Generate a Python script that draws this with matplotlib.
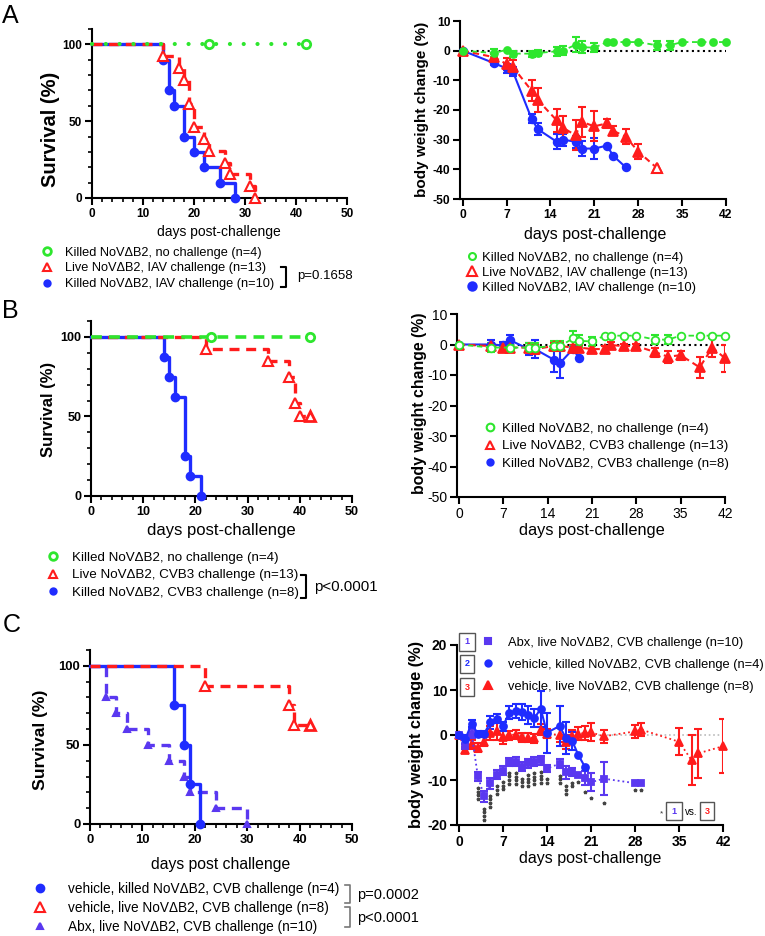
import numpy as np
import matplotlib.pyplot as plt
from matplotlib.lines import Line2D

plt.rcParams['font.family'] = ['Liberation Sans', 'DejaVu Sans']

W, H = 765, 936
GREEN = '#2ee62e'
RED = '#ff1c1c'
BLUE = '#1f2cff'
PURPLE = '#5a38f0'

# ---- A: survival (IAV)
a_red_t = [0, 14, 17, 18, 19, 20, 22, 23, 26, 27, 31, 32]
a_red_s = [100, 92.3, 84.6, 76.9, 61.5, 46.2, 38.5, 30.8, 23.1, 15.4, 7.7, 0]
a_blue_t = [0, 14, 15, 16, 18, 20, 22, 25, 28]
a_blue_s = [100, 90, 70, 60, 40, 30, 20, 10, 0]
a_green_t = [0, 42]
a_green_s = [100, 100]
a_green_cens = [23, 42]

# ---- A: body weight
ag_days = [0, 5, 7, 8, 11, 12, 15, 16, 18, 19, 21, 23, 24, 26, 28, 31, 33, 35, 38, 40, 42]
ag_mean = [0, -0.8, 0.3, -1, -1, -0.8, -0.2, 0, 2, 1.2, 1, 2.9, 2.9, 2.9, 2.9, 1.8, 1.8, 2.9, 2.9, 2.9, 2.9]
ag_err = [0, 1.5, 0, 1, 1, 1, 1.5, 1.5, 2.5, 2, 1.5, 0, 0, 0, 0, 1.5, 1.5, 0, 0, 0, 0]
ar_days = [0, 5, 7, 8, 11, 12, 15, 16, 18, 19, 21, 23, 24, 26, 28, 31]
ar_mean = [0, -2.2, -4.5, -5.5, -13.5, -16.7, -23.5, -26, -28.5, -24, -25.5, -24.5, -27, -29, -34, -39.6]
ar_err = [0, 1, 2, 2.5, 3.5, 4, 4, 4, 5, 5, 5, 1.5, 1.5, 2.5, 2.5, 0]
ab_days = [0, 5, 7, 8, 11, 12, 15, 16, 18, 19, 21, 23, 24, 26]
ab_mean = [0, -4.2, -6, -7, -23, -26.5, -30.7, -30, -30.7, -33, -33, -32, -35.4, -39.3]
ab_err = [0, 0.8, 1.5, 1.5, 1.5, 2, 2.5, 2, 2, 2.5, 3.5, 0, 0, 0]

# ---- B: survival (CVB3)
b_red_t = [0, 22, 34, 38, 39, 40]
b_red_s = [100, 92.3, 84.6, 75, 58.3, 50]
b_red_cens = [42]
b_blue_t = [0, 14, 15, 16, 18, 19, 21]
b_blue_s = [100, 87.5, 75, 62.5, 25, 12.5, 0]
b_green_t = [0, 42]
b_green_s = [100, 100]
b_green_cens = [23, 42]

# ---- B: body weight
bg_days = [0, 5, 8, 11, 12, 15, 16, 18, 19, 21, 23, 24, 26, 28, 31, 33, 35, 38, 40, 42]
bg_mean = [0, -1, -1, -1, -1, -0.5, -0.5, 2, 1.2, 1, 2.9, 2.9, 2.9, 2.9, 1.6, 1.6, 2.9, 2.9, 2.9, 2.9]
bg_err = [0, 1.5, 1, 1.5, 1.5, 1.5, 1.5, 2.5, 2, 1.5, 0, 0, 0, 0, 1.5, 1.5, 0, 0, 0, 0]
br_days = [0, 5, 7, 8, 11, 12, 15, 16, 18, 19, 21, 23, 24, 26, 28, 31, 33, 35, 38, 40, 42]
br_mean = [0, -0.5, -1, -1, -1, -1.5, -0.5, -0.5, -1, -1, -1.5, -1.5, -0.2, -0.5, -0.5, -2.5, -4, -3.5, -7.5, -1, -4.5]
br_err = [0, 0.8, 1, 1.5, 1.5, 1.5, 1, 1, 0.8, 0.8, 1, 1, 1, 0.8, 0.8, 1.5, 2, 1.5, 3.5, 3, 4.5]
bb_days = [0, 5, 7, 8, 11, 12, 15, 16, 18, 19]
bb_mean = [0, 0, -0.3, 1.5, -1.5, -1.5, -5, -6, -1.5, -4.5]
bb_err = [0, 1.5, 1, 1.5, 2, 3, 4, 5, 0, 0]

# ---- C: survival (Abx)
c_blue_t = [0, 16, 18, 19, 21]
c_blue_s = [100, 75, 50, 25, 0]
c_red_t = [0, 22, 38, 39]
c_red_s = [100, 87.5, 75, 62.5]
c_red_cens = [42]
c_pur_t = [0, 3, 5, 7, 11, 15, 18, 19, 24, 30]
c_pur_s = [100, 80, 70, 60, 50, 40, 30, 20, 10, 0]

# ---- C: body weight
cb_days = [0, 1, 2, 3, 4, 5, 6, 7, 8, 9, 10, 11, 12, 13, 14, 16, 17, 18, 19, 20]
cb_mean = [0, -0.9, 2.5, 0.3, 0.3, 2.8, 3.6, 2, 5, 5.3, 5.2, 4.5, 3.8, 5.8, 0.5, 2, -0.7, -1.3, -4.5, -7]
cb_err = [0, 1, 0.8, 0.5, 0.5, 1.5, 1, 1, 1.5, 1.5, 1.8, 2, 2, 4, 4.5, 4.5, 3.5, 2, 0, 0]
cr_days = [0, 1, 2, 3, 4, 5, 6, 7, 8, 9, 10, 11, 12, 13, 14, 16, 17, 18, 19, 20, 21, 23, 28, 29, 35, 37, 38, 42]
cr_mean = [0, -3.3, -2, -2.8, -1.5, 0.5, 0.9, -0.5, 0, 0.1, -0.5, -0.6, -0.7, 1.2, 0.3, 0, -1.6, -0.3, 0.3, 0.4,
           0.6, -0.3, 0.8, 1.2, -1.5, -5.6, -4.1, -2.5]
cr_err = [0, 0.7, 1, 1, 1, 1.5, 2, 1.5, 1, 1, 1, 1, 1, 1.3, 1, 1.5, 1.5, 1.5, 1.5, 1.5, 2, 1.5, 1.5, 1.5, 3, 5.5, 5.5, 6]
cp_days = [0, 1, 2, 3, 4, 5, 6, 7, 8, 9, 10, 11, 12, 13, 14, 16, 17, 18, 19, 20, 21, 23, 28, 29]
cp_mean = [0, -2.5, 0.3, -9.2, -13.6, -10.7, -8.8, -7.9, -6, -5.9, -7.1, -6.3, -5.9, -5.6, -7.4, -6.4, -8.3, -8.2,
           -8.8, -9.5, -10.5, -9.7, -10.7, -10.7]
cp_err = [0, 0.5, 1, 1, 1.2, 1.2, 1, 1, 0.8, 1, 1, 1, 1, 1, 0.8, 1, 1.5, 0.8, 0, 1.5, 2, 3.7, 0, 0]
cp_stars = [0, 0, 0, 4, 4, 4, 3, 3, 4, 4, 3, 4, 4, 4, 2, 3, 3, 2, 1, 1, 1, 1, 1, 1]

fig = plt.figure(figsize=(W / 100, H / 100), dpi=100)


def box(l, t, r, b):
    return fig.add_axes([l / W, 1 - b / H, (r - l) / W, (b - t) / H])


def T(x, y, s, **kw):
    return fig.text(x / W, 1 - y / H, s, **kw)


def style(ax, xt, yt, fs, bold=True, xminor=None, yminor=None):
    ax.spines[['top', 'right']].set_visible(False)
    ax.spines[['left', 'bottom']].set_linewidth(1.5)
    w = 'bold' if bold else 'normal'
    ax.set_xticks(xt, [str(v) for v in xt], fontsize=fs, fontweight=w)
    ax.set_yticks(yt, [str(v) for v in yt], fontsize=fs, fontweight=w)
    if xminor is not None:
        ax.set_xticks(xminor, minor=True)
    if yminor is not None:
        ax.set_yticks(yminor, minor=True)
    ax.tick_params(width=1.5, length=5, pad=2)
    ax.tick_params(which='minor', width=1.2, length=3)


def survival(ax, t, s, color, ls, marker, mfc, ms, lw=2.4, end=None, z=3):
    tt, ss = list(t), list(s)
    if end is not None:
        tt.append(end)
        ss.append(ss[-1])
    ln, = ax.step(tt, ss, where='post', color=color, lw=lw, zorder=z, clip_on=False)
    if isinstance(ls, tuple):
        ln.set_dashes(ls)
    else:
        ln.set_linestyle(ls)
    ax.plot(t[1:], s[1:], ls='none', marker=marker, mfc=mfc, mec=color, ms=ms, mew=1.5, zorder=z + 1, clip_on=False)


def censor(ax, t, val, color, marker, ms):
    ax.plot(t, [val] * len(t), ls='none', marker=marker, mfc='white', mec=color, ms=ms, mew=2, zorder=6, clip_on=False)


def weight(ax, d, m, e, color, ls, marker, mfc, ms, lw=1.5, dashes=None, open_last=False):
    d, m, e = np.array(d), np.array(m), np.array(e)
    ln, = ax.plot(d, m, color=color, ls=ls, lw=lw, marker=marker, mfc=mfc, mec=color, ms=ms, mew=1.3,
                  zorder=4, clip_on=False)
    if dashes is not None:
        ln.set_dashes(dashes)
    if open_last:
        ax.plot(d[-1:], m[-1:], ls='none', marker=marker, mfc='white', mec=color, ms=ms, mew=1.5, zorder=5)
    k = e > 0
    ax.errorbar(d[k], m[k], yerr=e[k], fmt='none', ecolor=color, elinewidth=1.5, capsize=3, capthick=1.5, zorder=3)


def key(ax, handles, labels, xm, y0, fs, gap, xt):
    fp = fs * 100 / 72
    left = xm - 0.5 * fp
    ax.legend(handles, labels, loc='upper left', bbox_to_anchor=(left / W, 1 - (y0 - 0.5 * fp) / H),
              bbox_transform=fig.transFigure, frameon=False, fontsize=fs, handlelength=1,
              handletextpad=(xt - left - fp) / fp, labelspacing=(gap - 1.0 * fp) / fp,
              borderpad=0, borderaxespad=0)


def mk(marker, color, mfc, ms, mew=1.5):
    return Line2D([], [], ls='none', marker=marker, mec=color, mfc=mfc, ms=ms, mew=mew)


def bracket(x, y0, y1, color, dx=5, lw=1.5):
    fig.add_artist(Line2D([(x - dx) / W, x / W, x / W, (x - dx) / W], [1 - y0 / H, 1 - y0 / H, 1 - y1 / H, 1 - y1 / H],
                          transform=fig.transFigure, color=color, lw=lw))


# ================= A left
ax = box(92, 29, 347, 198)
survival(ax, a_blue_t, a_blue_s, BLUE, '-', 'o', BLUE, 5.5, z=3)
survival(ax, a_red_t, a_red_s, RED, (3, 2), '^', 'white', 6.5, z=4)
ln, = ax.plot(a_green_t, a_green_s, color=GREEN, lw=3, zorder=6, dash_capstyle='round', clip_on=False)
ln.set_dashes((0.01, 3.3))
censor(ax, a_green_cens, 100, GREEN, 'o', 6)
ax.set_xlim(0, 50)
ax.set_ylim(0, 110)
style(ax, [0, 10, 20, 30, 40, 50], [0, 50, 100], 8.5, xminor=np.arange(0, 51, 2), yminor=np.arange(0, 111, 10))
T(50, 129, 'Survival (%)', rotation=90, ha='center', va='center', fontsize=14.5, fontweight='bold')
T(219, 232, 'days post-challenge', ha='center', va='center', fontsize=10)
key(ax, [mk('o', GREEN, 'white', 5.5, 2), mk('^', RED, 'white', 6, 1.5), mk('o', BLUE, BLUE, 4.5)],
    ['Killed NoVΔB2, no challenge (n=4)', 'Live NoVΔB2, IAV challenge (n=13)',
     'Killed NoVΔB2, IAV challenge (n=10)'], 47, 253, 9.2, 16.5, 65)
bracket(286, 267, 287, 'black')
T(297, 276, 'p=0.1658', ha='left', va='center', fontsize=9.5)

# ================= A right
ax = box(460, 21, 726, 199)
ax.axhline(0, color='black', ls=':', lw=1.5, zorder=1)
weight(ax, ab_days, ab_mean, ab_err, BLUE, '-', 'o', BLUE, 5.5)
weight(ax, ar_days, ar_mean, ar_err, RED, '--', '^', RED, 6.5, dashes=(3, 2), open_last=True)
weight(ax, ag_days, ag_mean, ag_err, GREEN, '--', 'o', GREEN, 5, lw=1.3, dashes=(3, 2))
ax.set_xlim(-0.43, 42)
ax.set_ylim(-50, 10)
style(ax, [0, 7, 14, 21, 28, 35, 42], [-50, -40, -30, -20, -10, 0, 10], 8.7)
T(422, 109, 'body weight change (%)', rotation=90, ha='center', va='center', fontsize=11, fontweight='bold')
T(595, 235, 'days post-challenge', ha='center', va='center', fontsize=11.5)
key(ax, [mk('o', GREEN, 'white', 5, 1.5), mk('^', RED, 'white', 7, 1.5), mk('o', BLUE, BLUE, 6)],
    ['Killed NoVΔB2, no challenge (n=4)', 'Live NoVΔB2, IAV challenge (n=13)',
     'Killed NoVΔB2, IAV challenge (n=10)'], 472, 258, 9.4, 16, 482)

# ================= B left
ax = box(91, 321, 352, 496)
survival(ax, b_blue_t, b_blue_s, BLUE, '-', 'o', BLUE, 5.5, z=3)
survival(ax, b_red_t, b_red_s, RED, (3, 2), '^', 'white', 6.5, end=42, z=4)
censor(ax, b_red_cens, b_red_s[-1], RED, '^', 6.5)
ln, = ax.plot(b_green_t, b_green_s, color=GREEN, lw=2.6, zorder=6, clip_on=False)
ln.set_dashes((3, 2))
censor(ax, b_green_cens, 100, GREEN, 'o', 6)
ax.set_xlim(0, 50)
ax.set_ylim(0, 110)
style(ax, [0, 10, 20, 30, 40, 50], [0, 50, 100], 9, xminor=np.arange(0, 51, 2), yminor=np.arange(0, 111, 10))
T(48, 409, 'Survival (%)', rotation=90, ha='center', va='center', fontsize=12, fontweight='bold')
T(221, 530, 'days post-challenge', ha='center', va='center', fontsize=12)
key(ax, [mk('o', GREEN, 'white', 5.5, 2), mk('^', RED, 'white', 6, 1.5), mk('o', BLUE, BLUE, 4.5)],
    ['Killed NoVΔB2, no challenge (n=4)', 'Live NoVΔB2, CVB3 challenge (n=13)',
     'Killed NoVΔB2, CVB3 challenge (n=8)'], 53, 558, 9.6, 18.5, 72)
bracket(306, 575, 598, 'black')
T(314, 587, 'p<0.0001', ha='left', va='center', fontsize=10.8)

# ================= B right
ax = box(457, 314, 725, 497)
ax.axhline(0, color='black', ls=':', lw=1.5, zorder=1)
weight(ax, bb_days, bb_mean, bb_err, BLUE, '-', 'o', BLUE, 5.5)
weight(ax, br_days, br_mean, br_err, RED, '--', '^', RED, 6.5, dashes=(3, 2))
weight(ax, bg_days, bg_mean, bg_err, GREEN, '--', 'o', 'white', 5.5, lw=1.3, dashes=(3, 2))
ax.set_xlim(-0.3, 42)
ax.set_ylim(-50, 10)
style(ax, [0, 7, 14, 21, 28, 35, 42], [-50, -40, -30, -20, -10, 0, 10], 10, bold=False)
T(419, 403, 'body weight change (%)', rotation=90, ha='center', va='center', fontsize=11.4, fontweight='bold')
T(592, 530, 'days post-challenge', ha='center', va='center', fontsize=11.8)
key(ax, [mk('o', GREEN, 'white', 5.5, 1.5), mk('^', RED, 'white', 6, 1.5), mk('o', BLUE, BLUE, 4.5)],
    ['Killed NoVΔB2, no challenge (n=4)', 'Live NoVΔB2, CVB3 challenge (n=13)',
     'Killed NoVΔB2, CVB3 challenge (n=8)'], 490, 429, 9.6, 18.5, 502)

# ================= C left
ax = box(90, 650, 352, 824)
survival(ax, c_pur_t, c_pur_s, PURPLE, (3, 2), '^', PURPLE, 5, z=3)
survival(ax, c_blue_t, c_blue_s, BLUE, '-', 'o', BLUE, 5.5, z=4)
survival(ax, c_red_t, c_red_s, RED, (3, 2), '^', 'white', 6.5, end=42, z=5)
censor(ax, c_red_cens, c_red_s[-1], RED, '^', 6.5)
ax.set_xlim(0, 50)
ax.set_ylim(0, 110)
style(ax, [0, 10, 20, 30, 40, 50], [0, 50, 100], 9.4, xminor=np.arange(0, 51, 2), yminor=np.arange(0, 111, 10))
T(40, 740, 'Survival (%)', rotation=90, ha='center', va='center', fontsize=12.6, fontweight='bold')
T(221, 865, 'days post challenge', ha='center', va='center', fontsize=11.3)
key(ax, [mk('o', BLUE, BLUE, 5.5), mk('^', RED, 'white', 6.5, 1.5), mk('^', PURPLE, PURPLE, 5)],
    ['vehicle, killed NoVΔB2, CVB challenge (n=4)', 'vehicle, live NoVΔB2, CVB challenge (n=8)',
     'Abx, live NoVΔB2, CVB challenge (n=10)'], 40, 889, 9.8, 18.5, 68)
bracket(350, 885, 903, '#777777', lw=1.2)
bracket(350, 907, 927, '#777777', lw=1.2)
T(357, 895, 'p=0.0002', ha='left', va='center', fontsize=10.5)
T(357, 918, 'p<0.0001', ha='left', va='center', fontsize=10.5)

# ================= C right
ax = box(457, 645, 723, 825)
ax.axhline(0, color='#bbbbbb', ls=':', lw=1.2, zorder=1)
weight(ax, cr_days, cr_mean, cr_err, RED, ':', '^', RED, 5.5, lw=1.3)
weight(ax, cp_days, cp_mean, cp_err, PURPLE, ':', 's', PURPLE, 4.5, lw=1.3)
weight(ax, cb_days, cb_mean, cb_err, BLUE, '-', 'o', BLUE, 5)
for d, m, e, n in zip(cp_days, cp_mean, cp_err, cp_stars):
    if n:
        ys = m - e - 1.6 - 0.8 * np.arange(n)
        ax.plot([d] * n, ys, ls='none', marker='*', ms=2.5, color='#444444', clip_on=False)
ax.set_xlim(-0.32, 42)
ax.set_ylim(-20, 20)
style(ax, [0, 7, 14, 21, 28, 35, 42], [-20, -10, 0, 10, 20], 10)
T(417, 734, 'body weight change (%)', rotation=90, ha='center', va='center', fontsize=11.8, fontweight='bold')
T(590, 858, 'days post-challenge', ha='center', va='center', fontsize=11.5)
key(ax, [mk('s', PURPLE, PURPLE, 4), mk('o', BLUE, BLUE, 4.5), mk('^', RED, RED, 5.5)],
    ['Abx, live NoVΔB2, CVB challenge (n=10)', 'vehicle, killed NoVΔB2, CVB challenge (n=4)',
     'vehicle, live NoVΔB2, CVB challenge (n=8)'], 488, 643, 9.3, 23, 508)
for y, num, c in [(642, '1', PURPLE), (664, '2', BLUE), (687, '3', RED)]:
    T(467, y, num, ha='center', va='center', fontsize=6.5, fontweight='bold', color=c,
      bbox=dict(boxstyle='square,pad=0.55', fc='white', ec='#555555', lw=1))
T(661, 814, '*', ha='center', va='center', fontsize=6, color='#333333')
T(674, 811, '1', ha='center', va='center', fontsize=6.5, fontweight='bold', color=PURPLE,
  bbox=dict(boxstyle='square,pad=0.55', fc='white', ec='#555555', lw=1))
T(691, 812, 'vs.', ha='center', va='center', fontsize=7)
T(707, 811, '3', ha='center', va='center', fontsize=6.5, fontweight='bold', color=RED,
  bbox=dict(boxstyle='square,pad=0.55', fc='white', ec='#555555', lw=1))

# panel letters
T(2, 23, 'A', fontsize=18, va='baseline')
T(2, 318, 'B', fontsize=18, va='baseline')
T(3, 632, 'C', fontsize=18, va='baseline')

fig.savefig('out.png', dpi=100)
